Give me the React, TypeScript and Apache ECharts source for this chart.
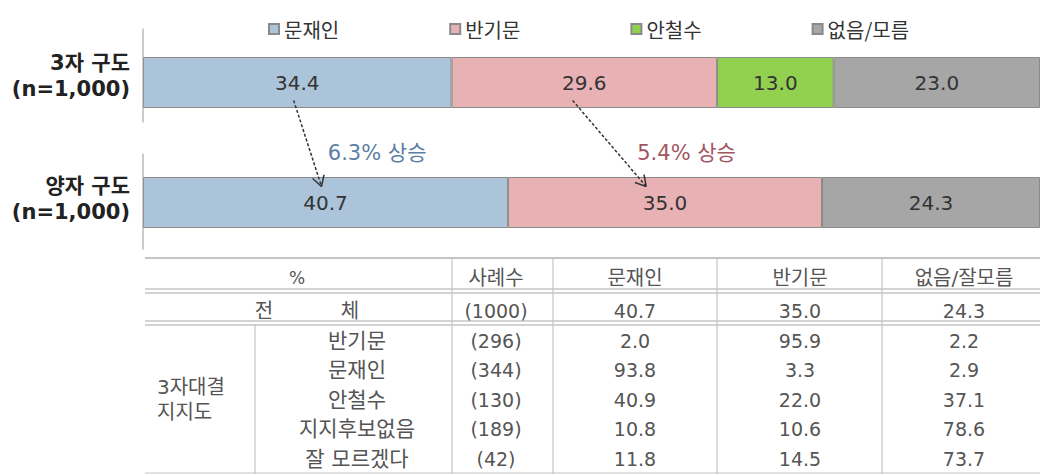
import React, { useEffect, useRef } from "react";
import * as echarts from "echarts";

// ---- Bar chart data ----
const categories = ["3자 구도", "양자 구도"];
const sampleLabel = "(n=1,000)";
const seriesNames = ["문재인", "반기문", "안철수", "없음/모름"];
const moonShare = [34.4, 40.7];
const banShare = [29.6, 35.0];
const ahnShare: (number | string)[] = [13.0, "-"];
const noneShare = [23.0, 24.3];
const seriesColors = ["#abc4d9", "#e8b2b4", "#92d050", "#a6a6a6"];

// ---- Annotations (arrow x-positions on the value axis) ----
const changeLabels = ["6.3% 상승", "5.4% 상승"];
const changeColors = ["#5b7ea6", "#a3555f"];
const arrowFrom = [16.8, 47.9];
const arrowTo = [19.9, 56.1];
const changeLabelX = [20.6, 55.1];

// ---- Table data ----
const tableHeader = ["%", "사례수", "문재인", "반기문", "없음/잘모름"];
const totalLabel = ["전", "체"];
const totalN = "(1000)";
const totalValues = [40.7, 35.0, 24.3];
const groupLabel = ["3자대결", "지지도"];
const subLabels = ["반기문", "문재인", "안철수", "지지후보없음", "잘 모르겠다"];
const subN = ["(296)", "(344)", "(130)", "(189)", "(42)"];
const subMoon = [2.0, 93.8, 40.9, 10.8, 11.8];
const subBan = [95.9, 3.3, 22.0, 10.6, 14.5];
const subNone = [2.2, 2.9, 37.1, 78.6, 73.7];

const FONT = '"DejaVu Sans", "Noto Sans CJK KR", sans-serif';
const KFONT = '"Noto Sans CJK KR", "Noto Sans", sans-serif';

export default function App() {
  const ref = useRef<HTMLDivElement>(null);

  useEffect(() => {
    if (!ref.current) return;
    const chart = echarts.init(ref.current, null, { renderer: "svg" });
    const dataSets = [moonShare, banShare, ahnShare, noneShare];

    const option: any = {
      animation: false,
      backgroundColor: "#ffffff",
      textStyle: { fontFamily: FONT },
      legend: {
        data: seriesNames,
        left: 263,
        top: 14,
        itemWidth: 10,
        itemHeight: 10,
        itemGap: 110,
        icon: "rect",
        textStyle: { fontSize: 20, color: "#333", fontFamily: KFONT },
      },
      grid: { left: 143, top: 22.5, width: 898, height: 240, containLabel: false },
      xAxis: { type: "value", min: 0, max: 100, show: false },
      yAxis: {
        type: "category",
        inverse: true,
        data: categories,
        axisLine: { show: false },
        axisTick: { show: false },
        axisLabel: {
          margin: 13,
          align: "right",
          formatter: (v: string, idx: number) =>
            idx === 0 ? `{a|${v}}\n{a|${sampleLabel}}\n{s|}` : `{a|${v}}\n{a|${sampleLabel}}`,
          rich: {
            a: { fontSize: 21, fontWeight: "bold", lineHeight: 26, color: "#222", fontFamily: FONT, align: "right" },
            s: { fontSize: 1, lineHeight: 6 },
          },
          padding: [0, 0, 8, 0],
        },
      },
      series: seriesNames.map((name, i) => ({
        name,
        type: "bar",
        stack: "total",
        barWidth: 51,
        data: dataSets[i],
        itemStyle: { color: seriesColors[i], borderColor: "#8a8a8a", borderWidth: 1 },
        label: {
          show: true,
          position: "inside",
          fontSize: 20,
          color: "#333",
          fontFamily: FONT,
          formatter: (p: any) => Number(p.value).toFixed(1),
        },
      })),
    };
    chart.setOption(option);

    const px = (v: number, c: number) => chart.convertToPixel({ gridIndex: 0 }, [v, c]) as number[];
    const c1 = px(0, 0);
    const c2 = px(0, 1);
    const axisX = c1[0];
    const g: any[] = [];
    const Z = 100;

    // axis line segments
    g.push({ type: "line", z: Z, silent: true, shape: { x1: axisX, y1: c1[1] - 54, x2: axisX, y2: c1[1] + 40 }, style: { stroke: "#999", lineWidth: 1 } });
    g.push({ type: "line", z: Z, silent: true, shape: { x1: axisX, y1: c2[1] - 49, x2: axisX, y2: c2[1] + 47 }, style: { stroke: "#999", lineWidth: 1 } });

    // arrows + annotation texts
    for (let i = 0; i < changeLabels.length; i++) {
      const sx = px(arrowFrom[i], 0)[0];
      const sy = c1[1] + 18;
      const ex = px(arrowTo[i], 1)[0];
      const ey = c2[1] - 16;
      g.push({ type: "line", z: Z, silent: true, shape: { x1: sx, y1: sy, x2: ex, y2: ey }, style: { stroke: "#333", lineWidth: 1.5, lineDash: [3, 2] } });
      const dx = ex - sx, dy = ey - sy;
      const len = Math.sqrt(dx * dx + dy * dy);
      const ux = dx / len, uy = dy / len;
      const a = (30 * Math.PI) / 180;
      const L = 12;
      const rot = (ang: number) => [
        ex - L * (ux * Math.cos(ang) - uy * Math.sin(ang)),
        ey - L * (ux * Math.sin(ang) + uy * Math.cos(ang)),
      ];
      const p1 = rot(a), p2 = rot(-a);
      g.push({ type: "line", z: Z, silent: true, shape: { x1: p1[0], y1: p1[1], x2: ex, y2: ey }, style: { stroke: "#333", lineWidth: 1.5 } });
      g.push({ type: "line", z: Z, silent: true, shape: { x1: p2[0], y1: p2[1], x2: ex, y2: ey }, style: { stroke: "#333", lineWidth: 1.5 } });
      const tx = px(changeLabelX[i], 0)[0];
      g.push({
        type: "text",
        z: Z,
        silent: true,
        style: {
          text: changeLabels[i], x: tx, y: (c1[1] + c2[1]) / 2 + 10,
          fontSize: 21, fontFamily: FONT, fill: changeColors[i],
          align: "left", textAlign: "left", verticalAlign: "middle", textVerticalAlign: "middle",
        },
      });
    }

    // ---- Table ----
    const tableLeft = 145;
    const tableRight = 1040;
    const colX = [297, 496, 635, 800, 964];
    const subLabelX = 357;
    const groupX = 157;
    const headerY = 278;
    const totalY = 311;
    const rowY0 = 341;
    const rowStep = 29.4;
    const vlines = [452, 553, 717, 882];
    const lineColor = "#c4c4c4";
    const txtColor = "#555";
    const tFont = 19;

    const hline = (y: number, x1 = tableLeft, w = 1.2) =>
      g.push({ type: "line", z: Z, silent: true, shape: { x1, y1: y, x2: tableRight, y2: y }, style: { stroke: lineColor, lineWidth: w } });
    hline(258, tableLeft, 2);
    hline(289, tableLeft, 1.5);
    hline(293, tableLeft, 1.5);
    hline(321, tableLeft, 1.5);
    hline(325, tableLeft, 1.5);
    hline(473, tableLeft, 1.2);
    vlines.forEach((x) =>
      g.push({ type: "line", z: Z, silent: true, shape: { x1: x, y1: 258, x2: x, y2: 474 }, style: { stroke: lineColor, lineWidth: 1.2 } })
    );
    g.push({ type: "line", z: Z, silent: true, shape: { x1: 255, y1: 325, x2: 255, y2: 474 }, style: { stroke: lineColor, lineWidth: 1.2 } });

    const txt = (text: string, x: number, y: number, align = "center", size = tFont) =>
      g.push({
        type: "text",
        z: Z,
        silent: true,
        style: {
          text, x, y, fontSize: size, fontFamily: FONT, fill: txtColor,
          align, textAlign: align, verticalAlign: "middle", textVerticalAlign: "middle",
        },
      });

    tableHeader.forEach((h, i) => txt(h, colX[i], headerY, "center", i === 0 ? 17 : 20));
    txt(totalLabel[0], 264, totalY, "center", 20);
    txt(totalLabel[1], 350, totalY, "center", 20);
    txt(totalN, colX[1], totalY);
    totalValues.forEach((v, i) => txt(v.toFixed(1), colX[2 + i], totalY));
    txt(groupLabel[0], groupX, 387, "left", 20);
    txt(groupLabel[1], groupX, 412, "left", 20);
    subLabels.forEach((lab, r) => {
      const y = rowY0 + r * rowStep;
      txt(lab, subLabelX, y, "center", 21);
      txt(subN[r], colX[1], y);
      txt(subMoon[r].toFixed(1), colX[2], y);
      txt(subBan[r].toFixed(1), colX[3], y);
      txt(subNone[r].toFixed(1), colX[4], y);
    });

    chart.setOption({ graphic: { elements: g } });

    return () => chart.dispose();
  }, []);

  return (
    <div
      ref={ref}
      style={{ position: "fixed", left: 0, top: 0, width: 1040, height: 474, background: "#fff" }}
    />
  );
}
